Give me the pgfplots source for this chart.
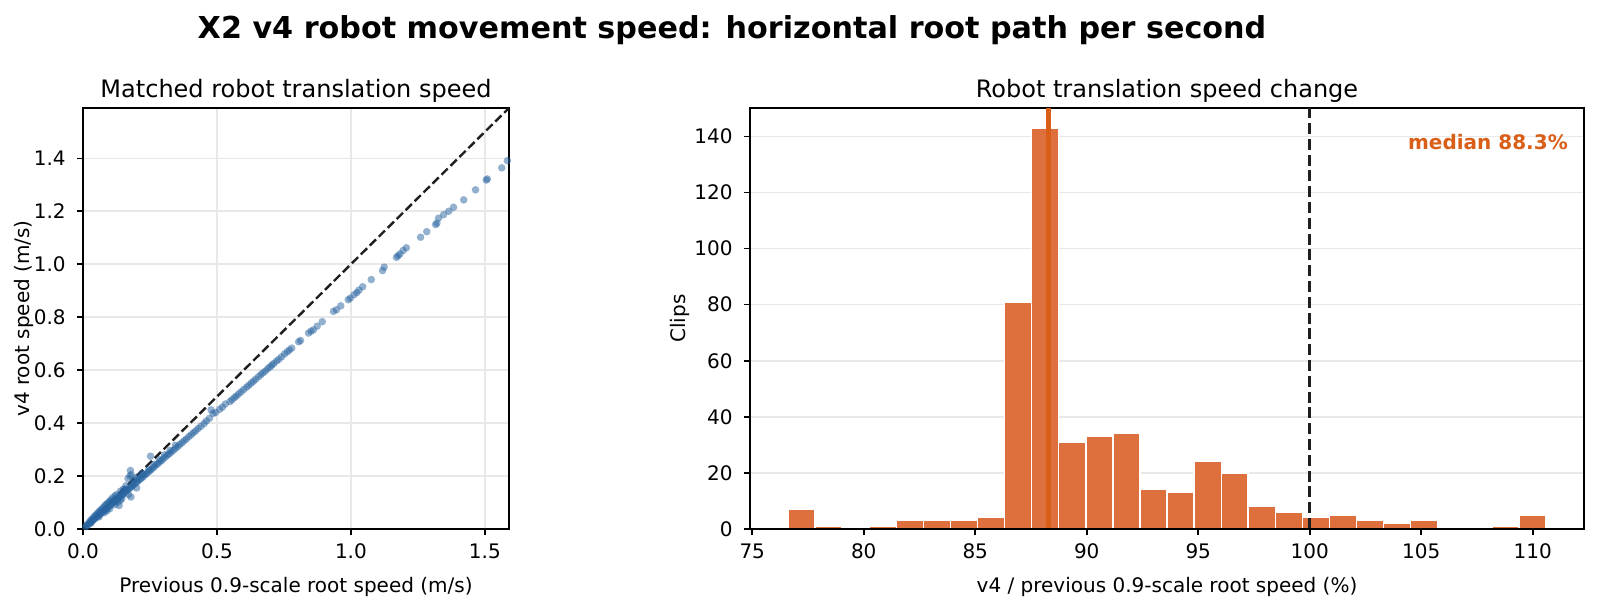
\documentclass[border=0pt]{standalone}
\usepackage{pgfplots}
\pgfplotsset{compat=1.18}
\usepackage{fontspec}
\setmainfont{DejaVu Sans}
\definecolor{scat}{RGB}{40,100,160}
\definecolor{barc}{RGB}{221,112,61}
\definecolor{medc}{RGB}{217,95,25}
\definecolor{gridc}{RGB}{232,232,232}

\pgfplotstableread{
x y
1.584 1.391
1.563 1.364
1.509 1.322
1.505 1.318
1.465 1.281
1.421 1.243
1.383 1.215
1.365 1.200
1.346 1.187
1.327 1.174
1.321 1.155
1.316 1.150
1.283 1.123
1.260 1.102
1.207 1.062
1.195 1.052
1.183 1.039
1.176 1.032
1.170 1.026
1.124 0.989
1.118 0.976
1.076 0.942
1.044 0.915
1.030 0.902
1.022 0.893
1.012 0.885
0.998 0.872
0.990 0.866
0.962 0.843
0.946 0.828
0.935 0.822
0.893 0.783
0.874 0.766
0.860 0.752
0.851 0.747
0.842 0.740
0.812 0.712
0.805 0.707
0.779 0.683
0.770 0.676
0.762 0.669
0.752 0.661
0.741 0.650
0.731 0.641
0.722 0.634
0.712 0.625
0.705 0.619
0.698 0.612
0.690 0.606
0.681 0.597
0.672 0.590
0.664 0.583
0.655 0.575
0.645 0.566
0.636 0.558
0.628 0.551
0.619 0.543
0.611 0.536
0.600 0.527
0.590 0.518
0.581 0.510
0.572 0.502
0.565 0.496
0.556 0.488
0.548 0.481
0.531 0.472
0.520 0.460
0.510 0.452
0.495 0.440
0.478 0.450
0.485 0.436
0.472 0.418
0.460 0.408
0.452 0.398
0.440 0.388
0.430 0.380
0.421 0.371
0.412 0.364
0.404 0.356
0.395 0.349
0.386 0.340
0.378 0.334
0.370 0.326
0.362 0.320
0.355 0.312
0.346 0.305
0.338 0.298
0.330 0.291
0.322 0.284
0.316 0.280
0.308 0.272
0.300 0.266
0.294 0.259
0.287 0.254
0.280 0.247
0.273 0.242
0.266 0.235
0.260 0.230
0.252 0.275
0.254 0.224
0.248 0.219
0.242 0.214
0.236 0.208
0.230 0.204
0.225 0.198
0.219 0.193
0.214 0.189
0.208 0.184
0.203 0.179
0.198 0.175
0.192 0.170
0.187 0.165
0.182 0.161
0.177 0.221
0.178 0.157
0.173 0.153
0.168 0.148
0.163 0.144
0.158 0.140
0.154 0.136
0.150 0.132
0.146 0.129
0.142 0.125
0.138 0.122
0.134 0.118
0.130 0.115
0.126 0.111
0.122 0.108
0.118 0.104
0.114 0.101
0.110 0.097
0.106 0.094
0.102 0.090
0.098 0.087
0.094 0.083
0.090 0.079
0.086 0.076
0.082 0.072
0.078 0.069
0.074 0.065
0.070 0.062
0.066 0.058
0.062 0.055
0.058 0.051
0.054 0.048
0.050 0.044
0.046 0.041
0.042 0.037
0.038 0.034
0.034 0.030
0.030 0.027
0.026 0.023
0.022 0.019
0.018 0.016
0.014 0.012
0.010 0.009
0.175 0.200
0.168 0.190
0.180 0.205
0.179 0.121
0.135 0.089
0.150 0.150
0.140 0.143
0.120 0.125
0.110 0.118
0.100 0.105
0.090 0.095
0.080 0.086
0.070 0.075
0.060 0.066
0.050 0.055
0.040 0.045
0.030 0.034
0.130 0.102
0.120 0.092
0.100 0.077
0.080 0.062
0.060 0.046
0.170 0.130
0.160 0.163
0.200 0.196
0.220 0.210
0.190 0.185
0.145 0.115
0.155 0.150
0.125 0.130
0.105 0.110
0.085 0.092
0.065 0.070
0.045 0.050
0.035 0.038
0.025 0.028
0.015 0.017
0.095 0.100
0.075 0.080
0.055 0.060
0.115 0.107
0.135 0.125
0.165 0.152
0.185 0.172
0.205 0.190
0.225 0.207
0.245 0.226
0.265 0.244
0.285 0.262
0.305 0.280
0.325 0.297
0.345 0.316
0.090 0.069
0.140 0.108
0.030 0.023
0.200 0.155
}\scatdata

\pgfplotstableread{
x n
76.60 7
77.81 1
79.03 0
80.24 1
81.46 3
82.67 3
83.89 3
85.10 4
86.31 81
87.53 143
88.74 31
89.96 33
91.17 34
92.39 14
93.60 13
94.81 24
96.03 20
97.24 8
98.46 6
99.67 4
100.89 5
102.10 3
103.31 2
104.53 3
105.74 0
106.96 0
108.17 1
109.39 5
110.60 0
}\histdata

\pgfplotsset{
  common/.style={
    scale only axis,
    anchor=south west,
    axis line style={line width=0.8pt, black},
    tick style={line width=0.8pt, black},
    tick align=outside,
    xtick pos=bottom, ytick pos=left,
    major tick length=3pt,
    /pgf/number format/assume math mode=true,
    tick label style={font=\fontsize{10}{12}\selectfont},
    label style={font=\fontsize{10}{12}\selectfont},
    xticklabel style={anchor=north, inner sep=0pt, yshift=-4.2pt},
    yticklabel style={anchor=east, inner sep=0pt, xshift=-5.5pt},
    grid style={gridc, line width=0.8pt},
    title style={at={(0.5,1)}, anchor=base, yshift=-0.5pt, font=\fontsize{12}{14}\selectfont},
    xlabel style={at={(axis description cs:0.5,-0.1517)}, anchor=base},
  }
}

\begin{document}
\begin{tikzpicture}
\path[use as bounding box] (0,0) rectangle (800pt,303.5pt);

\node[anchor=base, font=\bfseries\fontsize{15.1}{18}\selectfont] at (366pt,284.5pt)
  {X2 v4 robot movement speed: horizontal root path per second};

\begin{axis}[common,
  at={(41.5pt,39pt)}, width=213pt, height=210.5pt,
  xmin=0, xmax=1.59, ymin=0, ymax=1.59,
  xtick={0,0.5,1,1.5}, xticklabels={0.0,0.5,1.0,1.5},
  ytick={0,0.2,0.4,0.6,0.8,1.0,1.2,1.4},
  yticklabels={0.0,0.2,0.4,0.6,0.8,1.0,1.2,1.4},
  xmajorgrids, ymajorgrids,
  title={Matched robot translation speed},
  xlabel={Previous 0.9-scale root speed (m/s)},
  ylabel={v4 root speed (m/s)},
  ylabel style={at={(axis description cs:-0.1385,0.5)}, anchor=center},
]
\addplot[only marks, mark=*, mark size=1.9pt, color=scat,
  mark options={draw opacity=0, fill=scat, fill opacity=0.5}] table[x=x, y=y] {\scatdata};
\addplot[black!88, line width=1.2pt, dash pattern=on 4.4pt off 1.9pt] coordinates {(0,0) (1.59,1.59)};
\end{axis}

\begin{axis}[common,
  at={(375pt,39pt)}, width=417pt, height=210.5pt,
  xmin=74.9, xmax=112.3, ymin=0, ymax=150.15,
  xtick={75,80,85,90,95,100,105,110},
  ytick={0,20,40,60,80,100,120,140},
  ymajorgrids,
  title={Robot translation speed change},
  xlabel={v4 / previous 0.9-scale root speed (\%)},
  ylabel={Clips},
  ylabel style={at={(axis description cs:-0.0845,0.5)}, anchor=center},
]
\addplot[ybar interval, fill=barc, draw=white, line width=0.7pt] table[x=x, y=n] {\histdata};
\addplot[medc, line width=2.4pt] coordinates {(88.3,0) (88.3,150.15)};
\addplot[black!88, line width=1.5pt, dash pattern=on 5.5pt off 2.4pt] coordinates {(100,0) (100,150.15)};
\draw[line width=0.8pt, black] (rel axis cs:0,0) -- (rel axis cs:1,0);
\node[anchor=east, inner sep=0pt, font=\bfseries\fontsize{10}{12}\selectfont, text=medc] at (rel axis cs:0.981,0.92) {median 88.3\%};
\end{axis}
\end{tikzpicture}
\end{document}
